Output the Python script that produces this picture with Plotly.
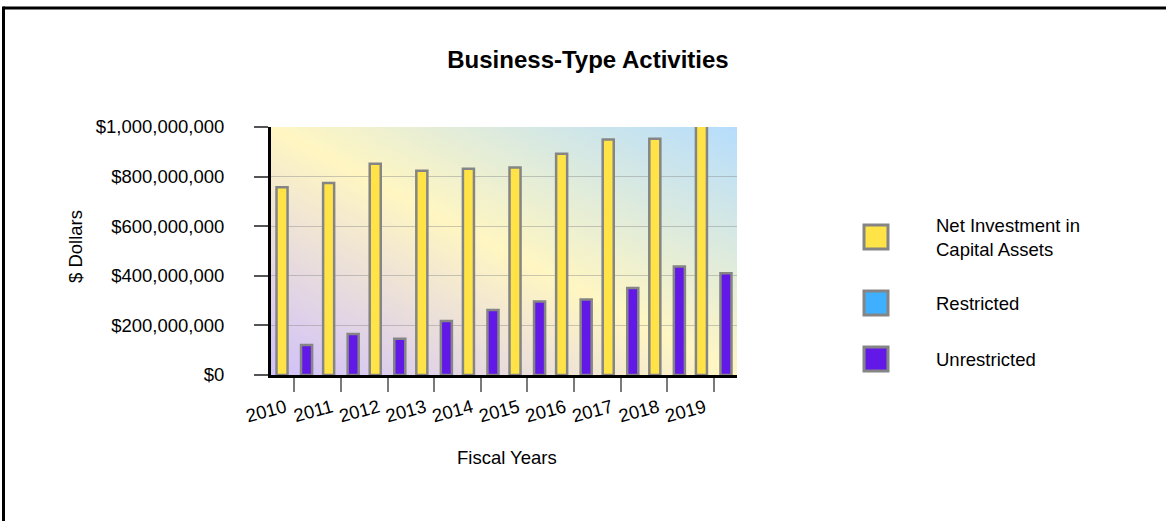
import base64
import plotly.graph_objects as go

years = ["2010", "2011", "2012", "2013", "2014", "2015", "2016", "2017", "2018", "2019"]
net_investment = [757e6, 774e6, 852e6, 824e6, 832e6, 837e6, 892e6, 950e6, 953e6, 1010e6]
restricted = [0, 0, 0, 0, 0, 0, 0, 0, 0, 0]
unrestricted = [121e6, 165e6, 146e6, 218e6, 262e6, 296e6, 304e6, 351e6, 437e6, 410e6]

series_names = ["Net Investment in<br>Capital Assets", "Restricted", "Unrestricted"]
series_values = [net_investment, restricted, unrestricted]
series_colors = ["#FFE347", "#3FB0FF", "#6218E6"]

y_tick_vals = [0, 200e6, 400e6, 600e6, 800e6, 1000e6]
y_tick_text = ["$0", "$200,000,000", "$400,000,000", "$600,000,000", "$800,000,000", "$1,000,000,000"]

W, H = 1166, 521
L, R, T, B = 271, 737, 127, 375  # plot area pixel box
pw, ph = R - L, B - T

def px(x):
    return (x - L) / pw

def py(y):
    return (B - y) / ph

FONT = "Liberation Sans, Arial, sans-serif"
FS = 18.5

fig = go.Figure()
for name, vals, col in zip(series_names, series_values, series_colors):
    fig.add_trace(go.Bar(
        x=years, y=vals, name=name.replace("<br>", " "),
        marker=dict(color=col, line=dict(color="#858585", width=2.5 if name != "Restricted" else 0)),
        showlegend=False,
    ))

# gradient background
svg = (
    '<svg xmlns="http://www.w3.org/2000/svg" width="466" height="248" viewBox="0 0 466 248" preserveAspectRatio="none">'
    '<defs><linearGradient id="g" x1="0" y1="1" x2="1" y2="0">'
    '<stop offset="0" stop-color="#d0c0fa"/>'
    '<stop offset="0.5" stop-color="#fff6c2"/>'
    '<stop offset="1" stop-color="#b5ddfd"/>'
    '</linearGradient></defs>'
    '<rect x="0" y="0" width="466" height="248" fill="url(#g)"/></svg>'
)
src = "data:image/svg+xml;base64," + base64.b64encode(svg.encode()).decode()

fig.update_layout(
    width=W, height=H,
    margin=dict(l=L, r=W - R, t=T, b=H - B, pad=0),
    paper_bgcolor="white",
    plot_bgcolor="rgba(0,0,0,0)",
    barmode="group",
    bargap=0.21,
    bargroupgap=0.1,
    font=dict(family=FONT, size=FS, color="#000"),
    title=dict(text="<b>Business-Type Activities</b>", x=588 / W, xanchor="center",
               y=1 - 60 / H, yanchor="middle", font=dict(size=24, family=FONT, color="#000")),
    images=[dict(source=src, xref="paper", yref="paper", x=0, y=1, sizex=1, sizey=1,
                 sizing="stretch", layer="below", xanchor="left", yanchor="top")],
    showlegend=False,
)

fig.update_xaxes(
    type="category",
    showline=True, linecolor="#000", linewidth=3,
    ticks="outside", ticklen=14, tickcolor="#7a7a7a", tickwidth=1.5,
    tickangle=-15, tickfont=dict(size=FS),
    ticklabelshift=-9, ticklabelstandoff=-2,
    showgrid=False, zeroline=False,
)
fig.update_yaxes(
    range=[0, 1e9],
    tickvals=y_tick_vals, ticktext=y_tick_text,
    showline=True, linecolor="#000", linewidth=3,
    ticks="outside", ticklen=14, tickcolor="#555", tickwidth=1.5,
    ticklabelstandoff=26,
    showgrid=True, gridcolor="rgba(140,140,140,0.45)", gridwidth=1,
    zeroline=False, tickfont=dict(size=FS),
)

# axis titles
fig.add_annotation(text="$ Dollars", xref="paper", yref="paper", x=px(75), y=py(247),
                   textangle=-90, showarrow=False, font=dict(size=FS),
                   xanchor="center", yanchor="middle")
fig.add_annotation(text="Fiscal Years", xref="paper", yref="paper", x=px(507), y=py(457),
                   showarrow=False, font=dict(size=FS), xanchor="center", yanchor="middle")

# manual legend
legend_centers = [237, 303, 359]
for name, col, cy in zip(series_names, series_colors, legend_centers):
    fig.add_shape(type="rect", xref="paper", yref="paper",
                  x0=px(864), x1=px(888), y0=py(cy + 12), y1=py(cy - 12),
                  fillcolor=col, line=dict(color="#858585", width=3))
    fig.add_annotation(text=name, xref="paper", yref="paper", x=px(934), y=py(cy),
                       showarrow=False, xanchor="left", yanchor="middle", align="left",
                       font=dict(size=FS))

# outer border (top and left visible)
fig.add_shape(type="line", xref="paper", yref="paper", x0=px(3.5), x1=px(1175),
              y0=py(8), y1=py(8), line=dict(color="#000", width=3))
fig.add_shape(type="line", xref="paper", yref="paper", x0=px(3.5), x1=px(3.5),
              y0=py(6.5), y1=py(530), line=dict(color="#000", width=3))

fig.write_html("out.html")
